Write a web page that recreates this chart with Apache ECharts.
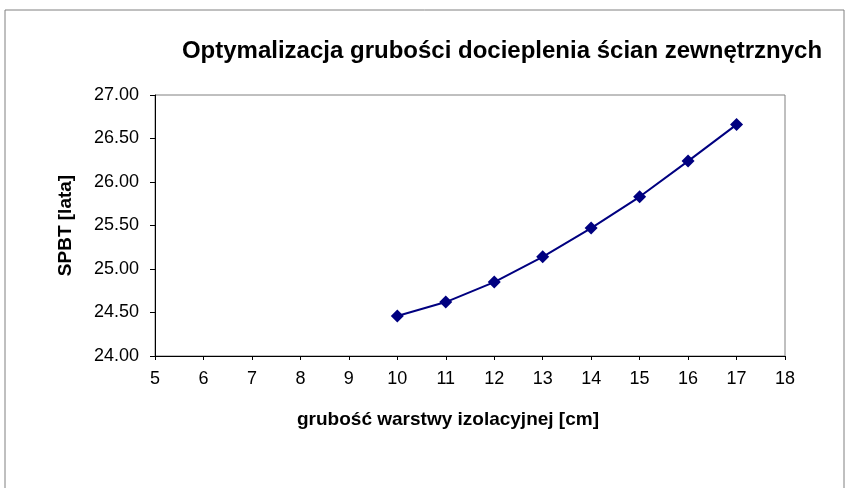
<!DOCTYPE html>
<html><head><meta charset="utf-8">
<script src="https://cdn.jsdelivr.net/npm/echarts@6/dist/echarts.min.js"></script>
<style>html,body{margin:0;padding:0;background:#fff}#c{width:847px;height:488px}</style>
</head><body><div id="c"></div>
<script>
var xValues = [10, 11, 12, 13, 14, 15, 16, 17];
var yValues = [24.46, 24.62, 24.85, 25.14, 25.47, 25.83, 26.24, 26.66];
var titleText = 'Optymalizacja grubości docieplenia ścian zewnętrznych';
var xName = 'grubość warstwy izolacyjnej [cm]';
var yName = 'SPBT [lata]';

var chart = echarts.init(document.getElementById('c'));
var font = 'Liberation Sans, Arial, sans-serif';
chart.setOption({
  animation: false,
  backgroundColor: '#fff',
  title: {text: titleText, left: 497, top: 34, textAlign: 'center',
    textStyle: {fontFamily: font, fontSize: 24, fontWeight: 'bold', color: '#000'}},
  graphic: [{type: 'rect', shape: {x: 5, y: 10, width: 839, height: 490},
    style: {fill: 'none', stroke: '#808080', lineWidth: 1}, silent: true}],
  grid: {left: 155, top: 95, right: 62, bottom: 132, show: true, borderColor: '#808080', borderWidth: 1},
  xAxis: {type: 'value', min: 5, max: 18, interval: 1,
    name: xName, nameLocation: 'middle', nameGap: 54,
    nameTextStyle: {fontFamily: font, fontSize: 19, fontWeight: 'bold', color: '#000', padding: [0, 44, 0, 0]},
    axisLine: {lineStyle: {color: '#000', width: 1}},
    axisTick: {inside: false, length: 4, lineStyle: {color: '#000'}},
    axisLabel: {fontFamily: font, fontSize: 18, color: '#000', margin: 14},
    splitLine: {show: false}},
  yAxis: {type: 'value', min: 24, max: 27, interval: 0.5,
    name: yName, nameLocation: 'middle', nameGap: 80, nameRotate: 90,
    nameTextStyle: {fontFamily: font, fontSize: 19, fontWeight: 'bold', color: '#000'},
    axisLine: {show: true, lineStyle: {color: '#000', width: 1}},
    axisTick: {show: true, length: 5, lineStyle: {color: '#000'}},
    axisLabel: {fontFamily: font, fontSize: 18, color: '#000', margin: 16,
      formatter: function(v){return v.toFixed(2);}},
    splitLine: {show: false}},
  series: [{type: 'line', data: xValues.map(function(x, i){return [x, yValues[i]];}),
    symbol: 'diamond', symbolSize: 13, itemStyle: {color: '#000080'},
    lineStyle: {color: '#000080', width: 2}}]
});
</script></body></html>
